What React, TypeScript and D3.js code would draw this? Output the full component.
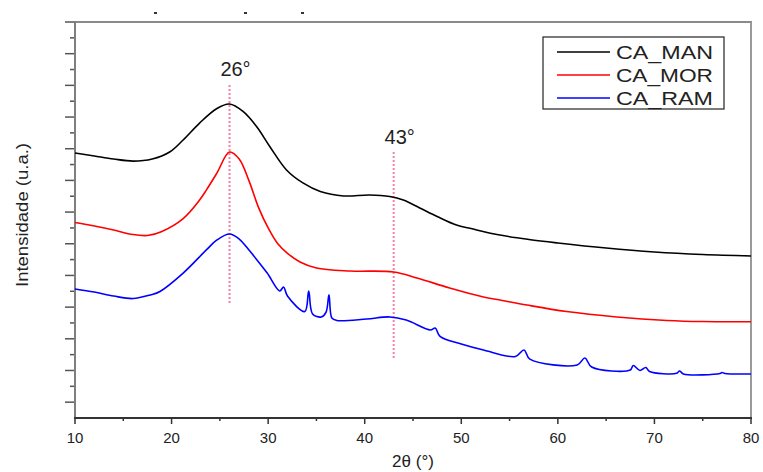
import React, { useEffect, useRef } from 'react';
import * as d3 from 'd3';

// 2θ positions (degrees) and intensities (a.u.)
const manX = [10, 12, 14, 16, 18, 19.8, 21.2, 22.9, 24.7, 26, 27.4, 28.8, 30.2, 31.9, 33.6, 35.4, 37.8, 40.5, 42.6, 44, 45.7, 47.5, 49.5, 51, 54, 57, 60, 65, 70, 75, 80];
const manY = [1673, 1654, 1635, 1622, 1635, 1679, 1755, 1862, 1954, 1982, 1935, 1840, 1711, 1566, 1484, 1430, 1402, 1408, 1398, 1376, 1326, 1272, 1218, 1196, 1155, 1127, 1105, 1073, 1048, 1032, 1023];

const morX = [10, 12, 14, 16, 17.5, 19, 21.2, 22.9, 23.6, 24.7, 26, 27, 28, 29, 30, 31, 32, 33.3, 35, 38.5, 43, 45.4, 48.8, 52.3, 54, 56.8, 60.9, 66.1, 71.3, 75, 80];
const morY = [1234, 1212, 1187, 1158, 1152, 1178, 1259, 1376, 1439, 1547, 1679, 1635, 1500, 1330, 1200, 1100, 1040, 985, 947, 928, 922, 884, 821, 764, 745, 713, 672, 638, 616, 609, 608];

const ramX = [10, 12, 14, 16, 17.8, 18.8, 21.2, 23.6, 24.7, 26, 27, 28.1, 29.9, 31.2, 31.6, 32, 33.8, 34.2, 34.6, 35.5, 36, 36.3, 36.6, 37.1, 40.2, 42.6, 44.3, 46.8, 47.3, 47.8, 50, 52.3, 55.6, 56.5, 57.1, 62, 62.8, 63.5, 67.5, 67.8, 68.5, 69.1, 69.5, 72.3, 72.6, 73, 76.8, 77, 77.3, 80];
const ramY = [814, 795, 770, 754, 777, 799, 915, 1061, 1124, 1162, 1130, 1054, 915, 802, 827, 770, 672, 802, 657, 638, 669, 777, 631, 616, 625, 638, 619, 556, 568, 515, 467, 429, 388, 429, 372, 335, 379, 322, 303, 331, 300, 319, 294, 282, 297, 278, 281, 287, 281, 278];

const seriesNames = ['CA_MAN', 'CA_MOR', 'CA_RAM'];
const seriesColors = ['#000000', '#ff0000', '#0000ff'];
const xTicks = [10, 20, 30, 40, 50, 60, 70, 80];
const peakMarks = [26, 43];

const App = () => {
  const svgRef = useRef<SVGSVGElement>(null);

  useEffect(() => {
    const svg = d3.select(svgRef.current);
    svg.selectAll('*').remove();

    const left = 75, right = 751, top = 22, bottom = 418;

    const x = d3.scaleLinear().domain([10, 80]).range([left, right]);
    const y = d3.scaleLinear().domain([0, 2500]).range([bottom, top]);

    const font = 'Arial, "Liberation Sans", sans-serif';

    // frame (top + right in gray)
    svg.append('line').attr('x1', left).attr('x2', right + 1).attr('y1', top).attr('y2', top)
      .attr('stroke', '#8a8a8a').attr('stroke-width', 2);
    svg.append('line').attr('x1', right).attr('x2', right).attr('y1', top).attr('y2', bottom)
      .attr('stroke', '#9a9a9a').attr('stroke-width', 2);

    // y axis: no labels, major + minor ticks
    const yMajor = d3.range(100, 2501, 200);
    const yMinor = d3.range(200, 2500, 200);
    svg.append('g').selectAll('line.ymaj').data(yMajor).enter().append('line')
      .attr('x1', left - 10).attr('x2', left).attr('y1', d => y(d)).attr('y2', d => y(d))
      .attr('stroke', '#555').attr('stroke-width', 1.5);
    svg.append('g').selectAll('line.ymin').data(yMinor).enter().append('line')
      .attr('x1', left - 5).attr('x2', left).attr('y1', d => y(d)).attr('y2', d => y(d))
      .attr('stroke', '#555').attr('stroke-width', 1.5);
    svg.append('line').attr('x1', left).attr('x2', left).attr('y1', top - 1).attr('y2', bottom)
      .attr('stroke', '#7f7f7f').attr('stroke-width', 2);

    // x axis
    const xMinor = d3.range(15, 80, 10);
    svg.append('g').selectAll('line.xmin').data(xMinor).enter().append('line')
      .attr('x1', d => x(d)).attr('x2', d => x(d)).attr('y1', bottom).attr('y2', bottom + 3)
      .attr('stroke', '#333').attr('stroke-width', 1.5);
    svg.append('g').selectAll('line.xmaj').data(xTicks).enter().append('line')
      .attr('x1', d => x(d)).attr('x2', d => x(d)).attr('y1', bottom).attr('y2', bottom + 6)
      .attr('stroke', '#333').attr('stroke-width', 1.5);
    svg.append('line').attr('x1', left - 1).attr('x2', right + 1).attr('y1', bottom).attr('y2', bottom)
      .attr('stroke', '#333').attr('stroke-width', 2);
    svg.append('g').selectAll('text').data(xTicks).enter().append('text')
      .attr('x', d => x(d)).attr('y', 443)
      .attr('text-anchor', 'middle')
      .style('font-family', font).style('font-size', '15px').style('fill', '#222')
      .text(d => d);

    svg.append('text')
      .attr('x', (left + right) / 2).attr('y', 467)
      .attr('text-anchor', 'middle')
      .style('font-family', font).style('font-size', '17px').style('fill', '#222')
      .text('2θ (°)');

    svg.append('text')
      .attr('transform', `translate(28,215) rotate(-90)`)
      .attr('text-anchor', 'middle')
      .attr('textLength', 144).attr('lengthAdjust', 'spacingAndGlyphs')
      .style('font-family', font).style('font-size', '16px').style('fill', '#222')
      .text('Intensidade (u.a.)');

    // remnants of a cropped title above the frame
    [155, 245, 302].forEach(px => {
      svg.append('rect').attr('x', px - 1).attr('y', 12).attr('width', 3).attr('height', 2).attr('fill', '#333');
    });

    // dotted peak markers
    const markTop = [85, 152];
    const markBottom = [303, 358];
    peakMarks.forEach((p, i) => {
      svg.append('line')
        .attr('x1', x(p)).attr('x2', x(p)).attr('y1', markTop[i]).attr('y2', markBottom[i])
        .attr('stroke', '#f77fb0').attr('stroke-width', 2).attr('stroke-dasharray', '2,2');
      svg.append('text')
        .attr('x', x(p) + 6).attr('y', i === 0 ? 76 : 144)
        .attr('text-anchor', 'middle')
        .style('font-family', font).style('font-size', '20px').style('fill', '#222')
        .text(`${p}°`);
    });

    // curves
    const series = [
      { xs: manX, ys: manY },
      { xs: morX, ys: morY },
      { xs: ramX, ys: ramY },
    ];
    const line = d3.line<[number, number]>()
      .x(d => x(d[0]))
      .y(d => y(d[1]))
      .curve(d3.curveCatmullRom.alpha(0.5));

    series.forEach((s, i) => {
      const pts: [number, number][] = s.xs.map((v, j) => [v, s.ys[j]]);
      svg.append('path')
        .datum(pts)
        .attr('d', line)
        .attr('fill', 'none')
        .attr('stroke', seriesColors[i])
        .attr('stroke-width', 1.6);
    });

    // legend
    const lg = svg.append('g');
    lg.append('rect').attr('x', 543).attr('y', 37).attr('width', 181).attr('height', 72)
      .attr('fill', 'white').attr('stroke', '#222').attr('stroke-width', 1.2);
    seriesNames.forEach((name, i) => {
      const ry = 52 + i * 23;
      lg.append('line').attr('x1', 557).attr('x2', 610).attr('y1', ry).attr('y2', ry)
        .attr('stroke', seriesColors[i]).attr('stroke-width', 1.3);
      lg.append('text').attr('x', 616).attr('y', ry + 7)
        .attr('textLength', 97).attr('lengthAdjust', 'spacingAndGlyphs')
        .style('font-family', font).style('font-size', '19px').style('fill', '#222')
        .text(name);
    });
  }, []);

  return (
    <svg ref={svgRef} width={763} height={472}
      style={{ position: 'absolute', left: 0, top: 0, display: 'block', background: 'white' }} />
  );
};

export default App;
